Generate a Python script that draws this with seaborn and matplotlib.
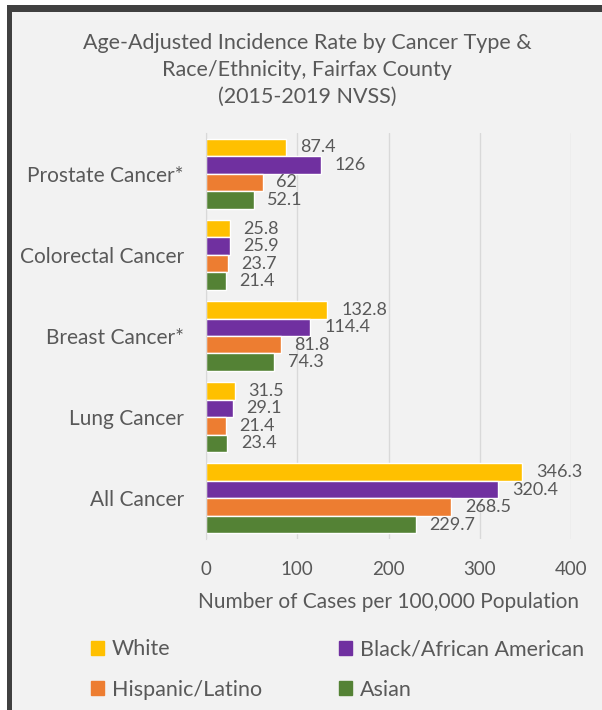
import pandas as pd
import matplotlib.pyplot as plt
import matplotlib.patches as mpatches
import seaborn as sns

# --- data ---
cancers = ["Prostate Cancer*", "Colorectal Cancer", "Breast Cancer*", "Lung Cancer", "All Cancer"]
groups = ["White", "Black/African American", "Hispanic/Latino", "Asian"]
white = [87.4, 25.8, 132.8, 31.5, 346.3]
black = [126, 25.9, 114.4, 29.1, 320.4]
hispanic = [62, 23.7, 81.8, 21.4, 268.5]
asian = [52.1, 21.4, 74.3, 23.4, 229.7]
label_text = {
    "White": ["87.4", "25.8", "132.8", "31.5", "346.3"],
    "Black/African American": ["126", "25.9", "114.4", "29.1", "320.4"],
    "Hispanic/Latino": ["62", "23.7", "81.8", "21.4", "268.5"],
    "Asian": ["52.1", "21.4", "74.3", "23.4", "229.7"],
}
colors = ["#FFC000", "#7030A0", "#ED7D31", "#548235"]

BG = "#F2F2F2"
TXT = "#595959"

sns.set_style("white")
plt.rcParams['font.family'] = ['Lato', 'DejaVu Sans']

df = pd.DataFrame({
    "cancer": cancers * 4,
    "group": [g for g in groups for _ in cancers],
    "rate": white + black + hispanic + asian,
})

fig = plt.figure(figsize=(6.02, 7.10), dpi=100, facecolor="white")
# chart area background
fig.patches.append(mpatches.Rectangle((12 / 602, 0), 1, 1 - 12 / 710, transform=fig.transFigure,
                                      facecolor=BG, edgecolor="none", zorder=-2))
# dark frame on left and top
fig.patches.append(mpatches.Rectangle((7 / 602, 0), 5 / 602, 1 - 5 / 710, transform=fig.transFigure,
                                      facecolor="#404040", edgecolor="none", zorder=-1))
fig.patches.append(mpatches.Rectangle((7 / 602, 1 - 12 / 710), 1, 7 / 710, transform=fig.transFigure,
                                      facecolor="#404040", edgecolor="none", zorder=-1))

ax = fig.add_axes([206 / 602, 1 - 539 / 710, 365 / 602, 406 / 710])
ax.set_facecolor(BG)

sns.barplot(data=df, x="rate", y="cancer", hue="group", order=cancers, hue_order=groups,
            palette=colors, orient="h", width=0.86, saturation=1, ax=ax, legend=False)

for cont, g in zip(ax.containers, groups):
    ax.bar_label(cont, labels=label_text[g], padding=10, fontsize=13, color=TXT)

ax.set_xlim(0, 400)
ax.set_xticks([0, 100, 200, 300, 400])
ax.grid(axis="x", color="#D9D9D9", linewidth=1)
ax.set_axisbelow(True)
for s in ["top", "right", "bottom"]:
    ax.spines[s].set_visible(False)
ax.spines["left"].set_color("#D9D9D9")
ax.tick_params(axis="x", length=0, pad=16, labelsize=13.5, labelcolor=TXT)
ax.tick_params(axis="y", length=0, pad=16, labelsize=15, labelcolor=TXT)
ax.set_ylabel("")
ax.set_xlabel("Number of Cases per 100,000 Population", fontsize=15, color=TXT, labelpad=10)

fig.text(0.51, 1 - 70 / 710, "Age-Adjusted Incidence Rate by Cancer Type &\nRace/Ethnicity, Fairfax County\n(2015-2019 NVSS)",
         ha="center", va="center", fontsize=15.5, color=TXT, linespacing=1.45)

# row-major legend: White, Black / Hispanic, Asian
handles = [mpatches.Patch(color=colors[i], label=groups[i]) for i in [0, 2, 1, 3]]
fig.legend(handles=handles, ncol=2, loc="upper left", bbox_to_anchor=(72 / 602, 1 - 620 / 710),
           frameon=False, fontsize=15.5, labelcolor=TXT, handlelength=0.6, handleheight=0.6,
           handletextpad=0.35, columnspacing=3.6, labelspacing=0.95)

fig.savefig("out.png", dpi=100, facecolor="white")
